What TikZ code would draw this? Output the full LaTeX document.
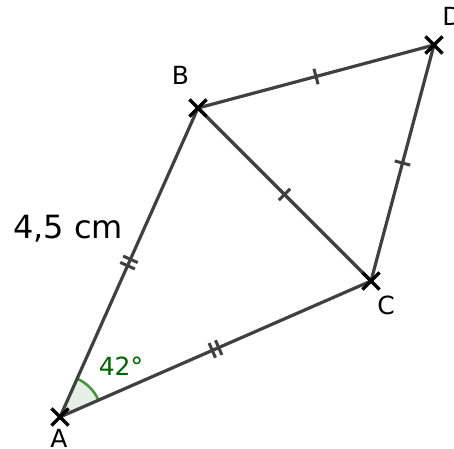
\documentclass[tikz,border=0pt]{standalone}
\usepackage{fontspec}
\setmainfont{DejaVu Sans}
\usetikzlibrary{shapes.misc,decorations.markings,angles,quotes}
\definecolor{seg}{RGB}{64,64,64}
\definecolor{ggreen}{RGB}{0,100,0}
\definecolor{arcgreen}{RGB}{70,150,70}
\tikzset{
  seg/.style={draw=seg,line width=3.2pt},
  onetick/.style={postaction={decorate},decoration={markings,
     mark=at position 0.5 with {\draw[seg,line width=3pt] (0,-8pt)--(0,8pt);}}},
  twotick/.style={postaction={decorate},decoration={markings,
     mark=at position 0.5 with {\draw[seg,line width=3pt] (-3.5pt,-8pt)--(-3.5pt,8pt) (3.5pt,-8pt)--(3.5pt,8pt);}}},
  ptcross/.style={cross out,draw=black,line width=3.2pt,minimum size=14pt,inner sep=0pt},
  ptlabel/.style={font=\fontsize{25}{28}\selectfont,inner sep=0pt,anchor=base},
}
\begin{document}
\begin{tikzpicture}[x=1pt,y=1pt]
\useasboundingbox (0,0) rectangle (454,448);
\coordinate (A) at (60,31);
\coordinate (B) at (198,340);
\coordinate (C) at (371,167);
\coordinate (D) at (434,403);
\pic[draw=arcgreen,line width=2.6pt,fill=ggreen,fill opacity=0.1,angle radius=42pt] {angle=C--A--B};
\draw[seg,twotick] (A) -- (B);
\draw[seg,twotick] (A) -- (C);
\draw[seg,onetick] (B) -- (C);
\draw[seg,onetick] (B) -- (D);
\draw[seg,onetick] (C) -- (D);
\node[ptcross] (xA) at (A) {};
\node[ptcross] (xB) at (B) {};
\node[ptcross] (xC) at (C) {};
\node[ptcross] (xD) at (D) {};
\node[ptlabel] (lA) at (59,1) {A};
\node[ptlabel] (lB) at (180.5,363.5) {B};
\node[ptlabel] (lC) at (386,134) {C};
\node[ptlabel] (lD) at (452,422.5) {D};
\node[ptlabel,text=ggreen] (ang) at (121,73) {42°};
\node[font=\fontsize{32}{36}\selectfont,inner sep=0pt,anchor=base] (len) at (68,210) {4,5 cm};
\end{tikzpicture}
\end{document}
